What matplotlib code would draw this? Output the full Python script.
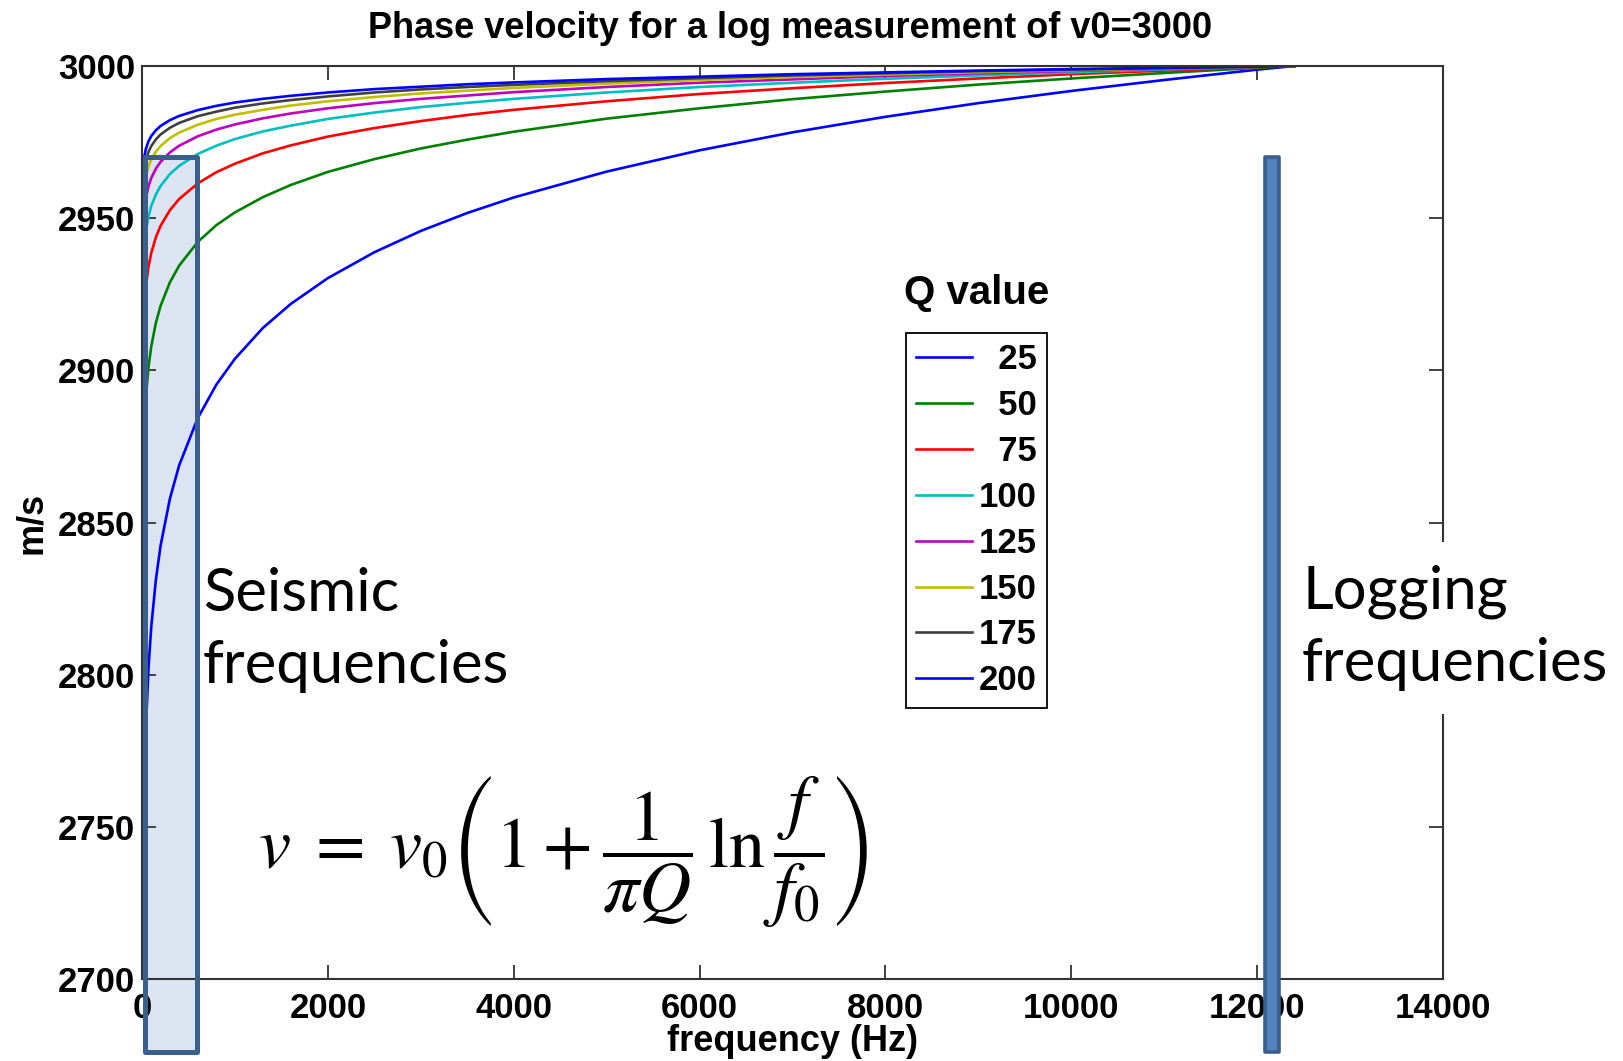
import matplotlib
matplotlib.use("Agg")
from matplotlib import pyplot as plt
from matplotlib.patches import Rectangle

freq = [10, 20, 40, 70, 100, 150, 200, 300, 400, 600, 800, 1000, 1300, 1600,
        2000, 2500, 3000, 3500, 4000, 5000, 6000, 7000, 8000, 9000, 10000,
        11000, 12000, 12400]

q_labels = ['  25', '  50', '  75', '100', '125', '150', '175', '200']

v_q25 = [2727.9, 2754.4, 2780.9, 2802.3, 2815.9, 2831.4, 2842.4, 2857.8, 2868.8,
         2884.3, 2895.3, 2903.8, 2913.9, 2921.8, 2930.3, 2938.8, 2945.8, 2951.7,
         2956.8, 2965.3, 2972.3, 2978.2, 2983.3, 2987.8, 2991.8, 2995.4, 2998.8, 3000]
v_q50 = [2864.0, 2877.2, 2890.4, 2901.1, 2907.9, 2915.7, 2921.2, 2928.9, 2934.4,
         2942.2, 2947.7, 2951.9, 2956.9, 2960.9, 2965.2, 2969.4, 2972.9, 2975.8,
         2978.4, 2982.7, 2986.1, 2989.1, 2991.6, 2993.9, 2995.9, 2997.7, 2999.4, 3000]
v_q75 = [2909.3, 2918.1, 2927.0, 2934.1, 2938.6, 2943.8, 2947.5, 2952.6, 2956.3,
         2961.4, 2965.1, 2967.9, 2971.3, 2973.9, 2976.8, 2979.6, 2981.9, 2983.9,
         2985.6, 2988.4, 2990.8, 2992.7, 2994.4, 2995.9, 2997.3, 2998.5, 2999.6, 3000]
v_q100 = [2932.0, 2938.6, 2945.2, 2950.6, 2954.0, 2957.8, 2960.6, 2964.5, 2967.2,
          2971.1, 2973.8, 2976.0, 2978.5, 2980.4, 2982.6, 2984.7, 2986.5, 2987.9,
          2989.2, 2991.3, 2993.1, 2994.5, 2995.8, 2996.9, 2997.9, 2998.9, 2999.7, 3000]
v_q125 = [2945.6, 2950.9, 2956.2, 2960.5, 2963.2, 2966.3, 2968.5, 2971.6, 2973.8,
          2976.9, 2979.1, 2980.8, 2982.8, 2984.4, 2986.1, 2987.8, 2989.2, 2990.3,
          2991.4, 2993.1, 2994.5, 2995.6, 2996.7, 2997.6, 2998.4, 2999.1, 2999.8, 3000]
v_q150 = [2954.7, 2959.1, 2963.5, 2967.0, 2969.3, 2971.9, 2973.7, 2976.3, 2978.1,
          2980.7, 2982.6, 2984.0, 2985.6, 2987.0, 2988.4, 2989.8, 2991.0, 2991.9,
          2992.8, 2994.2, 2995.4, 2996.4, 2997.2, 2998.0, 2998.6, 2999.2, 2999.8, 3000]
v_q175 = [2961.1, 2964.9, 2968.7, 2971.8, 2973.7, 2975.9, 2977.5, 2979.7, 2981.3,
          2983.5, 2985.0, 2986.3, 2987.7, 2988.8, 2990.0, 2991.3, 2992.3, 2993.1,
          2993.8, 2995.0, 2996.0, 2996.9, 2997.6, 2998.3, 2998.8, 2999.3, 2999.8, 3000]
v_q200 = [2966.0, 2969.3, 2972.6, 2975.3, 2977.0, 2978.9, 2980.3, 2982.2, 2983.6,
          2985.5, 2986.9, 2988.0, 2989.2, 2990.2, 2991.3, 2992.4, 2993.2, 2994.0,
          2994.6, 2995.7, 2996.5, 2997.3, 2997.9, 2998.5, 2999.0, 2999.4, 2999.8, 3000]

curves = [v_q25, v_q50, v_q75, v_q100, v_q125, v_q150, v_q175, v_q200]
colors = [(0, 0, 1), (0, 0.5, 0), (1, 0, 0), (0, 0.75, 0.75),
          (0.75, 0, 0.75), (0.75, 0.75, 0), (0.25, 0.25, 0.25), (0, 0, 1)]

# frequency bands marked on the chart
seismic_band = (30, 597)
logging_freq = 12160
band_top = 2970
band_bottom = 2676

plt.rcParams['font.family'] = 'Liberation Sans'
plt.rcParams['mathtext.fontset'] = 'stix'

fig = plt.figure(figsize=(16.23, 10.61), dpi=100)
ax = fig.add_axes([142/1623, 1-979/1061, 1301/1623, 913/1061])

for v, c, lab in zip(curves, colors, q_labels):
    ax.plot(freq, v, color=c, lw=1.9, label=lab, zorder=2)

ax.set_xlim(0, 14000)
ax.set_ylim(2700, 3000)
ax.set_xticks(range(0, 14001, 2000))
ax.set_yticks(range(2700, 3001, 50))
ax.tick_params(direction='in', length=10, width=1.3, top=True, right=True,
               labelsize=25, color='#333333')
ax.tick_params(axis='x', pad=9)
ax.tick_params(axis='y', pad=5)
for lbl in ax.get_xticklabels() + ax.get_yticklabels():
    lbl.set_fontweight('bold')
for sp in ax.spines.values():
    sp.set_linewidth(1.5)
    sp.set_color('#333333')

ax.set_xlabel('frequency (Hz)', fontsize=26, fontweight='bold')
ax.set_ylabel('m/s', fontsize=26, fontweight='bold')
ax.xaxis.set_label_coords(0.5, -0.068)
ax.xaxis.label.set_va('center')
ax.yaxis.set_label_coords(-0.085, 0.5)
ax.yaxis.label.set_va('center')

fig.text(790/1623, 1-28/1061, 'Phase velocity for a log measurement of v0=3000',
         ha='center', va='center', fontsize=26, fontweight='bold')

# seismic band box: fill under the lines, outline on top
x0, x1 = seismic_band
ax.add_patch(Rectangle((x0, band_bottom), x1-x0, band_top-band_bottom,
                       facecolor='#dbe4f0', edgecolor='none', zorder=1.5, clip_on=False))
ax.add_patch(Rectangle((x0, band_bottom), x1-x0, band_top-band_bottom,
                       facecolor='none', edgecolor='#3b5f8c', lw=3.6, zorder=6,
                       clip_on=False, joinstyle='round'))

# logging frequency bar
ax.add_patch(Rectangle((logging_freq-75, band_bottom), 150, band_top-band_bottom,
                       facecolor='#4f81bd', edgecolor='#3b5f8c', lw=2.6, zorder=6,
                       clip_on=False, joinstyle='round'))

leg = ax.legend(loc='upper left', bbox_to_anchor=(906/1623, 1-333/1061),
                bbox_transform=fig.transFigure, fontsize=25, frameon=True,
                fancybox=False, framealpha=1, edgecolor='black',
                handlelength=1.6, handletextpad=0.2, labelspacing=0.37,
                borderpad=0.3, borderaxespad=0)
leg.get_frame().set_linewidth(1.3)
for t in leg.get_texts():
    t.set_fontweight('bold')
for h in leg.get_lines():
    h.set_linewidth(1.9)

fig.text(977/1623, 1-293/1061, 'Q value', ha='center', va='center',
         fontsize=29, fontweight='bold')

ax.text(203/1623, 1-630/1061, 'Seismic\nfrequencies', ha='left', va='center',
        transform=fig.transFigure, fontsize=43, family='Lato', linespacing=1.42)
# white box behind the right-hand label breaks the right spine, bar stays on top
ax.text(1302/1623, 1-628/1061, 'Logging\nfrequencies', ha='left', va='center',
        transform=fig.transFigure, fontsize=43, family='Lato', linespacing=1.42,
        bbox=dict(facecolor='white', edgecolor='none', pad=16), zorder=5)

fig.text(563/1623, 1-851/1061,
         r'$v\;=\;v_0\left(1+\dfrac{1}{\pi Q}\,\ln\dfrac{f}{f_0}\right)$',
         ha='center', va='center', fontsize=52)

fig.savefig('out.png', dpi=100)
